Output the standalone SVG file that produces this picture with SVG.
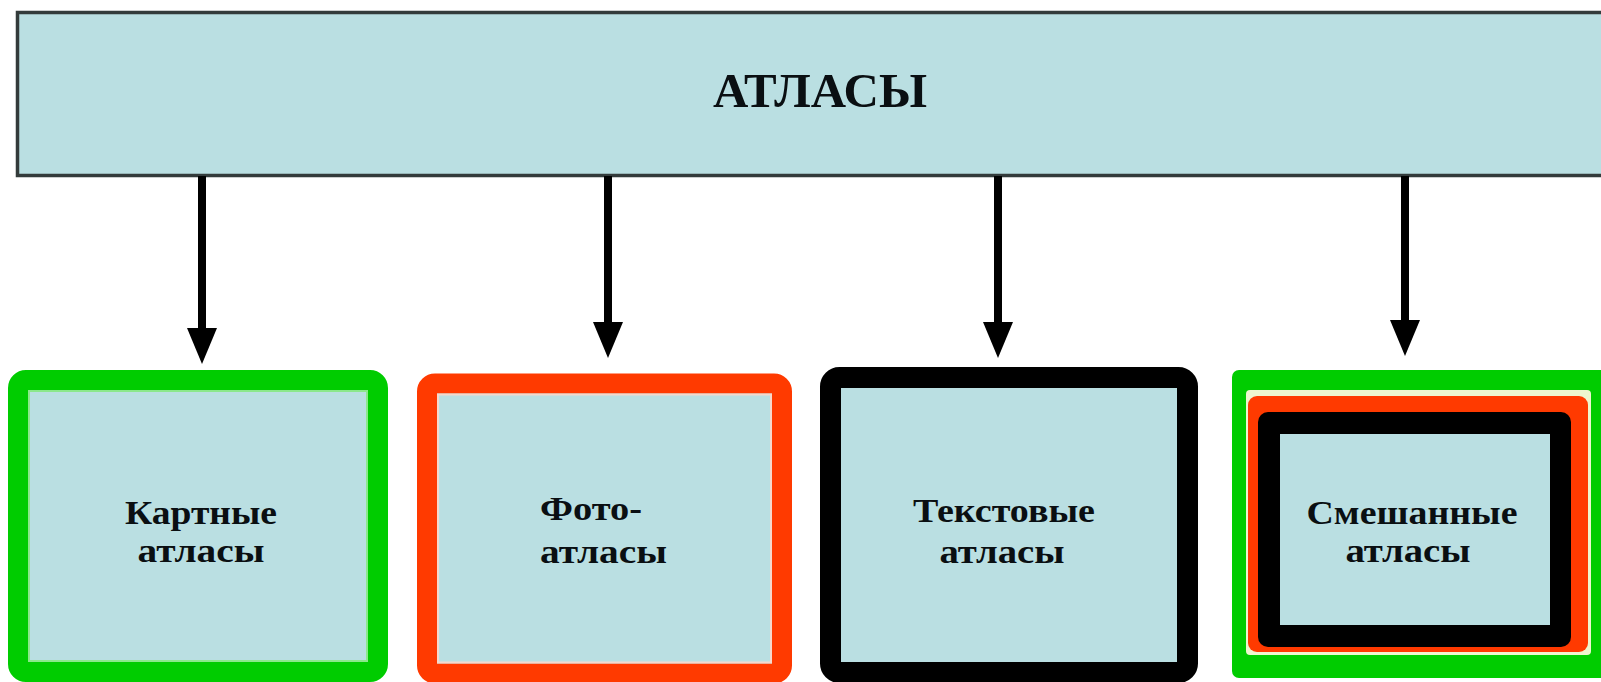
<svg xmlns="http://www.w3.org/2000/svg" width="1601" height="682" viewBox="0 0 1601 682">
<defs>
<style>
.fill{fill:#badfe2}
.lbl{font-family:"Liberation Serif","Times New Roman",serif;font-weight:bold;fill:#0a0f12}
.big{font-size:48px}
.sm{font-size:34px}
.conn{stroke:#000;stroke-width:8;fill:none}
.head{fill:#000}
</style>
</defs>
<rect width="1601" height="682" fill="#ffffff"/>
<g id="atlasy">
<rect x="17.5" y="12.5" width="1600" height="163" class="fill" stroke="#333b3b" stroke-width="3.5"/>
<text x="820" y="107" class="lbl big" text-anchor="middle" textLength="214" lengthAdjust="spacingAndGlyphs">АТЛАСЫ</text>
</g>
<g id="connectors">
<line x1="202" y1="176" x2="202" y2="332" class="conn"/>
<polygon points="187,328 217,328 202,364" class="head"/>
<line x1="608" y1="176" x2="608" y2="326" class="conn"/>
<polygon points="593,322 623,322 608,358" class="head"/>
<line x1="998" y1="176" x2="998" y2="326" class="conn"/>
<polygon points="983,322 1013,322 998,358" class="head"/>
<line x1="1405" y1="176" x2="1405" y2="324" class="conn"/>
<polygon points="1390,320 1420,320 1405,356" class="head"/>
</g>
<g id="kartnye">
<rect x="18" y="380" width="360" height="292" rx="8" class="fill" stroke="#00cc00" stroke-width="20"/>
<rect x="29" y="391" width="338" height="270" fill="none" stroke="#8be88b" stroke-width="2"/>
<text class="lbl sm" text-anchor="middle"><tspan x="201" y="524" textLength="152" lengthAdjust="spacingAndGlyphs">Картные</tspan><tspan x="201" y="562" textLength="127" lengthAdjust="spacingAndGlyphs">атласы</tspan></text>
</g>
<g id="foto">
<rect x="427" y="383.5" width="355" height="290" rx="8" class="fill" stroke="#ff3a00" stroke-width="20"/>
<rect x="438" y="394.5" width="333" height="268" fill="none" stroke="#f6d8cc" stroke-width="2"/>
<text class="lbl sm"><tspan x="540" y="520" textLength="102" lengthAdjust="spacingAndGlyphs">Фото-</tspan><tspan x="540" y="563" textLength="127" lengthAdjust="spacingAndGlyphs">атласы</tspan></text>
</g>
<g id="tekstovye">
<rect x="830.5" y="377.5" width="357" height="295" rx="9" class="fill" stroke="#000000" stroke-width="21"/>
<text class="lbl sm" text-anchor="middle"><tspan x="1004" y="522" textLength="182" lengthAdjust="spacingAndGlyphs">Текстовые</tspan><tspan x="1002" y="563" textLength="125" lengthAdjust="spacingAndGlyphs">атласы</tspan></text>
</g>
<g id="smeshannye">
<rect x="1232" y="370" width="390" height="308" rx="7" fill="#00cc00"/>
<rect x="1246" y="390" width="345" height="265" rx="4" fill="#eef6cf"/>
<rect x="1248" y="396" width="340" height="256" rx="9" fill="#ff3a00"/>
<rect x="1258" y="412" width="313" height="235" rx="10" fill="#000000"/>
<rect x="1280" y="434" width="270" height="191" class="fill"/>
<text class="lbl sm" text-anchor="middle"><tspan x="1412" y="524" textLength="211" lengthAdjust="spacingAndGlyphs">Смешанные</tspan><tspan x="1408" y="562" textLength="125" lengthAdjust="spacingAndGlyphs">атласы</tspan></text>
</g>
</svg>
